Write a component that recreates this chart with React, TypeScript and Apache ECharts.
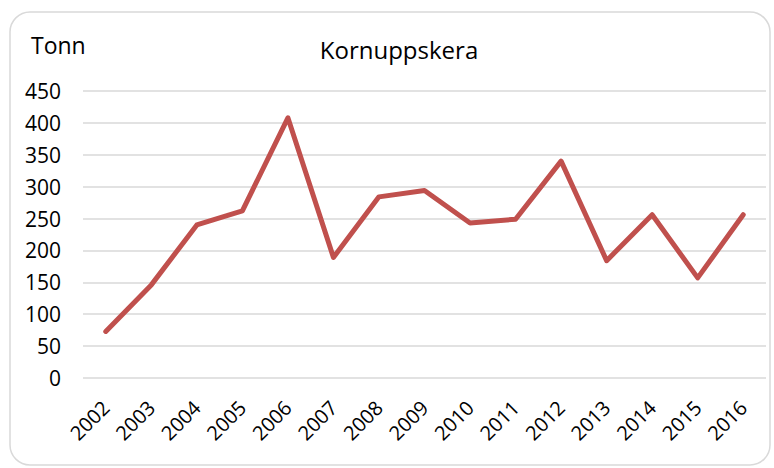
import React, { useEffect, useRef } from "react";
import * as echarts from "echarts";

const years = ["2002","2003","2004","2005","2006","2007","2008","2009","2010","2011","2012","2013","2014","2015","2016"];
const values = [73, 146, 240, 262, 408, 189, 284, 294, 243, 249, 340, 184, 256, 157, 256];
const titleText = "Kornuppskera";
const unitText = "Tonn";

export default function App() {
  const ref = useRef<HTMLDivElement>(null);
  useEffect(() => {
    document.body.style.margin = "0";
    const chart = echarts.init(ref.current!, undefined, { renderer: "svg" });
    const font = "'Open Sans', 'Noto Sans', sans-serif";
    chart.setOption({
      animation: false,
      backgroundColor: "#ffffff",
      textStyle: { fontFamily: font },
      title: {
        text: titleText,
        left: 394,
        top: 32,
        textAlign: "center",
        textStyle: { fontSize: 24, fontWeight: "normal", color: "#000", fontFamily: font },
      },
      graphic: [
        {
          type: "rect",
          shape: { x: 10, y: 12, width: 760, height: 453, r: 20 },
          style: { fill: "none", stroke: "#d9d9d9", lineWidth: 1.5 },
          silent: true,
          z: -1,
        },
        {
          type: "text",
          left: 31,
          top: 33,
          style: { text: unitText, fontSize: 23, fill: "#000", fontFamily: font },
        },
      ],
      grid: { left: 83, right: 8, top: 91, bottom: 90, containLabel: false },
      xAxis: {
        type: "category",
        data: years,
        boundaryGap: true,
        axisLine: { show: false },
        axisTick: { show: false },
        axisLabel: {
          rotate: 45,
          fontSize: 20,
          color: "#000",
          margin: 26,
          interval: 0,
          fontFamily: font,
        },
      },
      yAxis: {
        type: "value",
        min: 0,
        max: 450,
        interval: 50,
        axisLine: { show: false },
        axisTick: { show: false },
        axisLabel: { fontSize: 21, color: "#000", margin: 22, fontFamily: font },
        splitLine: { lineStyle: { color: "#d9d9d9", width: 1.5 } },
      },
      series: [
        {
          type: "line",
          data: values,
          symbol: "none",
          lineStyle: { color: "#C0504D", width: 5, cap: "round", join: "round" },
          itemStyle: { color: "#C0504D" },
        },
      ],
    });
    return () => chart.dispose();
  }, []);
  return <div ref={ref} style={{ position: "absolute", left: 0, top: 0, width: 774, height: 468 }} />;
}
